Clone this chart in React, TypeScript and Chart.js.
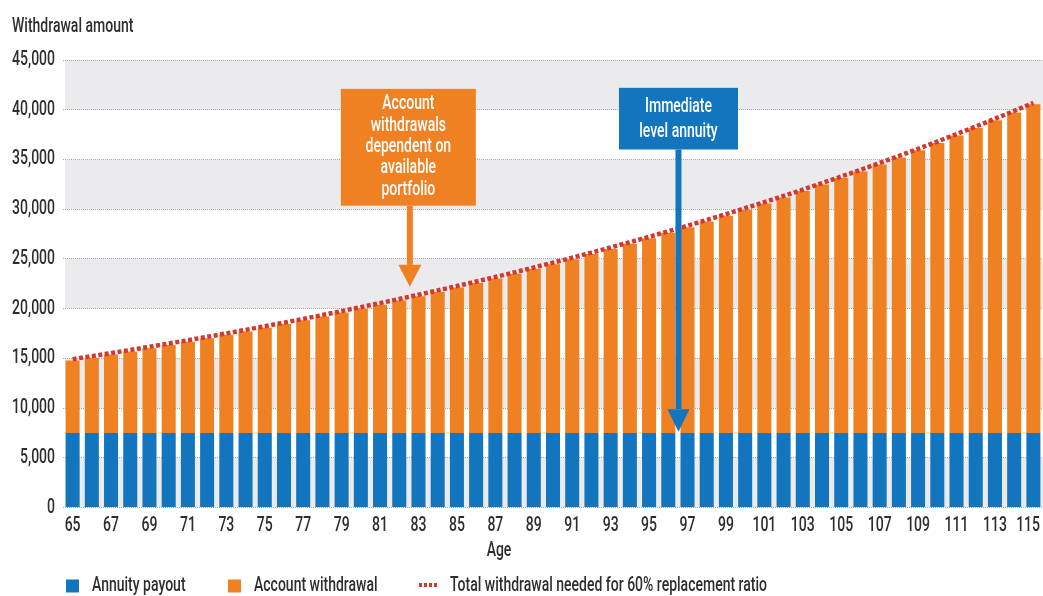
import React, { useEffect, useRef } from "react";
import { Chart, registerables } from "chart.js";

Chart.register(...registerables);

const ages = [
  "65", "66", "67", "68", "69", "70", "71", "72", "73", "74",
  "75", "76", "77", "78", "79", "80", "81", "82", "83", "84",
  "85", "86", "87", "88", "89", "90", "91", "92", "93", "94",
  "95", "96", "97", "98", "99", "100", "101", "102", "103", "104",
  "105", "106", "107", "108", "109", "110", "111", "112", "113", "114",
  "115",
];

const annuityPayout = [
  7500, 7500, 7500, 7500, 7500, 7500, 7500, 7500, 7500, 7500,
  7500, 7500, 7500, 7500, 7500, 7500, 7500, 7500, 7500, 7500,
  7500, 7500, 7500, 7500, 7500, 7500, 7500, 7500, 7500, 7500,
  7500, 7500, 7500, 7500, 7500, 7500, 7500, 7500, 7500, 7500,
  7500, 7500, 7500, 7500, 7500, 7500, 7500, 7500, 7500, 7500,
  7500,
];

const accountWithdrawal = [
  7270, 7570, 7880, 8190, 8510, 8840, 9170, 9510, 9860, 10210,
  10580, 10940, 11320, 11700, 12100, 12500, 12900, 13320, 13750, 14180,
  14620, 15070, 15530, 16000, 16480, 16970, 17470, 17980, 18500, 19030,
  19570, 20120, 20690, 21260, 21850, 22450, 23060, 23680, 24320, 24970,
  25630, 26300, 26990, 27700, 28420, 29150, 29900, 30660, 31440, 32230,
  33040,
];

const totalNeeded = [
  14920, 15220, 15530, 15840, 16160, 16490, 16820, 17160, 17510, 17860,
  18230, 18590, 18970, 19350, 19750, 20150, 20550, 20970, 21400, 21830,
  22270, 22720, 23180, 23650, 24130, 24620, 25120, 25630, 26150, 26680,
  27220, 27770, 28340, 28910, 29500, 30100, 30710, 31330, 31970, 32620,
  33280, 33950, 34640, 35350, 36070, 36800, 37550, 38310, 39090, 39880,
  40690,
];

const Y_MAX = 45000;
const Y_STEP = 5000;

const BLUE = "#1275be";
const ORANGE = "#f08122";
const RED = "#d3372d";
const BAND = "#ebebed";
const TEXT = "#2e2e2e";
const FONT = 'Roboto, "Liberation Sans", sans-serif';
const FONT_SIZE = 20;
const FONT_WEIGHT = 500;
const SQUEEZE = 0.7;

const orangeNote = ["Account", "withdrawals", "dependent on", "available", "portfolio"];
const blueNote = ["Immediate", "level annuity"];

function txt(ctx: CanvasRenderingContext2D, s: string, x: number, y: number, align: CanvasTextAlign, color: string) {
  ctx.save();
  ctx.translate(x, y);
  ctx.scale(SQUEEZE, 1);
  ctx.font = `${FONT_WEIGHT} ${FONT_SIZE}px ${FONT}`;
  ctx.fillStyle = color;
  ctx.textAlign = align;
  ctx.textBaseline = "middle";
  ctx.fillText(s, 0, 0);
  ctx.restore();
}

function txtWidth(ctx: CanvasRenderingContext2D, s: string) {
  ctx.save();
  ctx.font = `${FONT_WEIGHT} ${FONT_SIZE}px ${FONT}`;
  const w = ctx.measureText(s).width * SQUEEZE;
  ctx.restore();
  return w;
}

const decorPlugin = {
  id: "decor",
  beforeDraw(chart: any) {
    const { ctx, chartArea } = chart;
    const ys = chart.scales.y;
    ctx.save();
    ctx.fillStyle = BAND;
    for (let v = 0; v < Y_MAX; v += Y_STEP * 2) {
      const yTop = ys.getPixelForValue(v + Y_STEP);
      const yBot = ys.getPixelForValue(v);
      ctx.fillRect(chartArea.left + 2, yTop, chartArea.right - chartArea.left - 2, yBot - yTop);
    }
    ctx.restore();
  },
  afterDatasetsDraw(chart: any) {
    const { ctx } = chart;
    const xs = chart.scales.x;
    const ys = chart.scales.y;
    ctx.save();

    // Orange annotation
    {
      const ax = xs.getPixelForValue(17.55);
      const top = ys.getPixelForValue(42100);
      const bottom = ys.getPixelForValue(30350);
      const headTop = ys.getPixelForValue(24400);
      const tip = ys.getPixelForValue(22200);
      const w = 135;
      const left = ax - 69;
      ctx.fillStyle = ORANGE;
      ctx.fillRect(left, top, w, bottom - top);
      ctx.fillRect(ax - 3, bottom, 6, headTop - bottom);
      ctx.beginPath();
      ctx.moveTo(ax - 11.5, headTop);
      ctx.lineTo(ax + 11.5, headTop);
      ctx.lineTo(ax, tip);
      ctx.closePath();
      ctx.fill();
      orangeNote.forEach((line, i) => {
        txt(ctx, line, left + w / 2, top + 15.5 + i * 21.3, "center", "#ffffff");
      });
    }

    // Blue annotation
    {
      const ax = xs.getPixelForValue(31.53);
      const top = ys.getPixelForValue(42200);
      const bottom = ys.getPixelForValue(36000);
      const headTop = ys.getPixelForValue(9870);
      const tip = ys.getPixelForValue(7620);
      const w = 119;
      const left = ax - 59.5;
      ctx.fillStyle = BLUE;
      ctx.fillRect(left, top, w, bottom - top);
      ctx.fillRect(ax - 3, bottom, 6, headTop - bottom);
      ctx.beginPath();
      ctx.moveTo(ax - 11, headTop);
      ctx.lineTo(ax + 11, headTop);
      ctx.lineTo(ax, tip);
      ctx.closePath();
      ctx.fill();
      blueNote.forEach((line, i) => {
        txt(ctx, line, left + w / 2, top + 19 + i * 25, "center", "#ffffff");
      });
    }
    ctx.restore();
  },
  afterDraw(chart: any) {
    const { ctx, chartArea, width } = chart;
    const xs = chart.scales.x;
    const ys = chart.scales.y;
    ctx.save();
    // Y tick labels
    ys.ticks.forEach((t: any) => {
      txt(ctx, Number(t.value).toLocaleString("en-US"), chartArea.left - 8, ys.getPixelForValue(t.value), "right", TEXT);
    });
    // X tick labels (every other age), kept inside the canvas
    ages.forEach((a, i) => {
      if (i % 2 !== 0) return;
      const half = txtWidth(ctx, a) / 2;
      const cx = Math.min(xs.getPixelForValue(i), width - 3 - half);
      txt(ctx, a, cx, chartArea.bottom + 18.5, "center", TEXT);
    });
    // Axis titles
    txt(ctx, "Withdrawal amount", 12, 27, "left", TEXT);
    txt(ctx, "Age", 499, 551, "center", TEXT);
    // Legend
    const ly = 586;
    ctx.fillStyle = BLUE;
    ctx.fillRect(66, ly - 6.5, 13, 13);
    txt(ctx, "Annuity payout", 92, ly, "left", TEXT);
    ctx.fillStyle = ORANGE;
    ctx.fillRect(228, ly - 6.5, 13, 13);
    txt(ctx, "Account withdrawal", 254, ly, "left", TEXT);
    ctx.strokeStyle = RED;
    ctx.lineWidth = 4;
    ctx.setLineDash([3, 2]);
    ctx.beginPath();
    ctx.moveTo(419, ly - 1);
    ctx.lineTo(438, ly - 1);
    ctx.stroke();
    ctx.setLineDash([]);
    txt(ctx, "Total withdrawal needed for 60% replacement ratio", 450, ly, "left", TEXT);
    ctx.restore();
  },
};

export default function App() {
  const canvasRef = useRef<HTMLCanvasElement | null>(null);

  useEffect(() => {
    const canvas = canvasRef.current;
    if (!canvas) return;
    const chart = new Chart(canvas, {
      type: "bar",
      data: {
        labels: ages,
        datasets: [
          {
            type: "line" as any,
            label: "Total withdrawal needed for 60% replacement ratio",
            data: totalNeeded,
            borderColor: RED,
            borderWidth: 4.5,
            borderDash: [4, 2.5],
            borderCapStyle: "butt",
            pointRadius: 0,
            fill: false,
            tension: 0,
            stack: "total",
            order: 0,
          } as any,
          {
            label: "Annuity payout",
            data: annuityPayout,
            backgroundColor: BLUE,
            stack: "bars",
            order: 1,
            barPercentage: 0.73,
            categoryPercentage: 1,
          },
          {
            label: "Account withdrawal",
            data: accountWithdrawal,
            backgroundColor: ORANGE,
            stack: "bars",
            order: 1,
            barPercentage: 0.73,
            categoryPercentage: 1,
          },
        ],
      },
      plugins: [decorPlugin],
      options: {
        responsive: false,
        animation: false,
        devicePixelRatio: 1,
        layout: { padding: { top: 60, left: 0, right: 0, bottom: 0 } },
        plugins: {
          legend: { display: false },
          tooltip: { enabled: false },
          title: { display: false },
        },
        scales: {
          x: {
            stacked: true,
            grid: { display: false, drawTicks: false },
            border: { display: false },
            ticks: { display: false, autoSkip: false },
            afterFit: (s: any) => {
              s.height = 88.5;
            },
          },
          y: {
            stacked: true,
            min: 0,
            max: Y_MAX,
            grid: { color: "#a8a8a8", lineWidth: 1, drawTicks: false },
            border: { display: false, dash: [1, 1] },
            ticks: { display: false, stepSize: Y_STEP },
            afterFit: (s: any) => {
              s.width = 63;
            },
          },
        },
      },
    });
    return () => chart.destroy();
  }, []);

  return (
    <div style={{ position: "absolute", left: 0, top: 0, width: 1043, height: 596, background: "#fff" }}>
      <canvas ref={canvasRef} width={1043} height={596} style={{ display: "block" }} />
    </div>
  );
}
